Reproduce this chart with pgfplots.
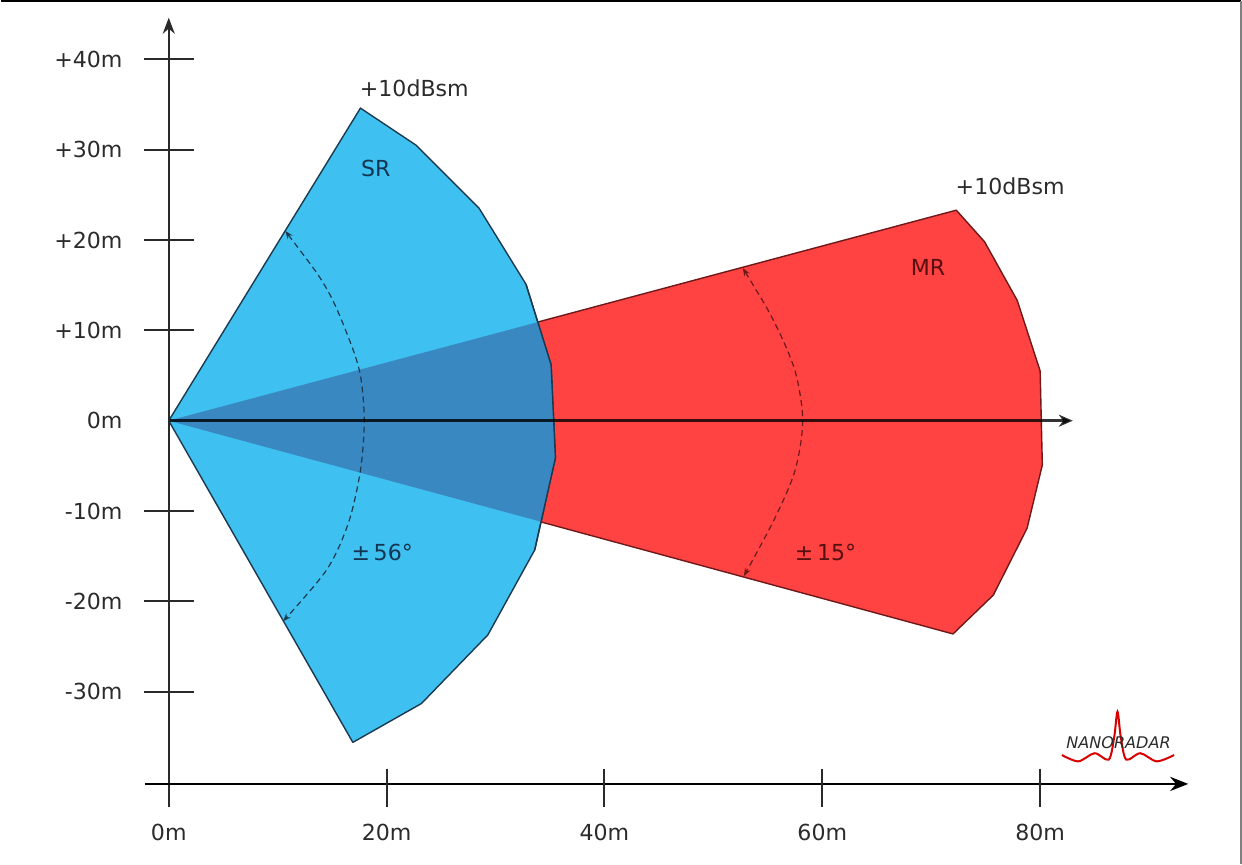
\documentclass[border=0pt]{standalone}
\usepackage{pgfplots}
\pgfplotsset{compat=1.18}
\usepackage{fontspec}
\setmainfont{DejaVu Sans}
\usetikzlibrary{arrows.meta}
\definecolor{srblue}{HTML}{3EC1F0}
\definecolor{mrred}{HTML}{FF4242}
\definecolor{overlapc}{HTML}{3A88C2}
\definecolor{sredge}{HTML}{1B3A50}
\definecolor{mredge}{HTML}{6E1A1A}
\definecolor{srtext}{HTML}{143552}
\definecolor{mrtext}{HTML}{561010}
\definecolor{axisgray}{HTML}{2A2A2A}
\definecolor{labgray}{HTML}{2B2B2B}

\begin{document}
\begin{tikzpicture}
\begin{axis}[
  scale only axis, width=621pt, height=435pt,
  xmin=-15.853, xmax=98.618, ymin=-49.667, ymax=47.0,
  axis lines=none, clip=false,
  font=\fontsize{11}{13}\selectfont,
]
% MR coverage (red)
\addplot[fill=mrred, draw=mredge, line width=0.7pt, line join=round] coordinates {
 (0,0) (72.3,23.3) (74.9,19.8) (77.9,13.3) (80.0,5.5) (80.2,-4.9)
 (78.8,-11.9) (75.7,-19.3) (72.0,-23.6) (0,0)};
% SR coverage (blue)
\addplot[fill=srblue, draw=sredge, line width=0.7pt, line join=round] coordinates {
 (0,0) (17.6,34.6) (22.7,30.5) (28.5,23.5) (32.8,15.1) (35.1,6.2)
 (35.5,-4.1) (33.6,-14.3) (29.3,-23.7) (23.2,-31.3) (16.9,-35.6) (0,0)};
% overlap
\addplot[fill=overlapc, draw=none] coordinates {
 (0,0) (33.88,10.91) (35.1,6.2) (35.5,-4.1) (34.18,-11.18) (0,0)};
% SR outline redrawn
\addplot[draw=sredge, line width=0.7pt, line join=round] coordinates {
 (32.8,15.1) (35.1,6.2) (35.5,-4.1) (33.6,-14.3)};

% angle arcs
\addplot[sredge, densely dashed, line width=0.6pt, smooth,
  {Stealth[length=4pt,width=3pt]}-{Stealth[length=4pt,width=3pt]}] coordinates {
 (10.7,21.0) (14.5,14.6) (16.6,8.9) (17.6,5.0) (17.95,0) (17.6,-5.5)
 (16.5,-11.3) (14.5,-16.5) (10.5,-22.2)};
\addplot[mredge, densely dashed, line width=0.6pt, smooth,
  {Stealth[length=4pt,width=3pt]}-{Stealth[length=4pt,width=3pt]}] coordinates {
 (52.7,16.9) (55.6,10.9) (57.5,5.5) (58.2,0) (57.5,-5.5) (55.6,-10.9) (52.8,-17.2)};

% zero line arrow
\draw[black, opacity=0.8, line width=1.3pt, -{Stealth[length=7pt,width=6pt]}]
  (axis cs:0,0) -- (axis cs:83.0,0);
% y axis
\draw[axisgray, line width=1pt, -{Stealth[length=8pt,width=6pt]}]
  (axis cs:0,-42.8) -- (axis cs:0,44.6);
% bottom x axis
\draw[black, line width=1.4pt, -{Stealth[length=9pt,width=7pt]}]
  (axis cs:-2.2,-40.2) -- (axis cs:93.6,-40.2);

% y ticks
\pgfplotsinvokeforeach{40,30,20,10,-10,-20,-30}{
  \draw[axisgray, line width=1pt] (axis cs:-2.3,#1) -- (axis cs:2.3,#1);
}
\node[anchor=east, text=labgray] at (axis cs:-3.6,40) {+40m};
\node[anchor=east, text=labgray] at (axis cs:-3.6,30) {+30m};
\node[anchor=east, text=labgray] at (axis cs:-3.6,20) {+20m};
\node[anchor=east, text=labgray] at (axis cs:-3.6,10) {+10m};
\node[anchor=east, text=labgray] at (axis cs:-3.6,0) {0m};
\node[anchor=east, text=labgray] at (axis cs:-3.6,-10) {-10m};
\node[anchor=east, text=labgray] at (axis cs:-3.6,-20) {-20m};
\node[anchor=east, text=labgray] at (axis cs:-3.6,-30) {-30m};

% x ticks
\pgfplotsinvokeforeach{20,40,60,80}{
  \draw[axisgray, line width=1pt] (axis cs:#1,-38.5) -- (axis cs:#1,-42.8);
}
\node[text=labgray] at (axis cs:0,-45.6) {0m};
\node[text=labgray] at (axis cs:20,-45.6) {20m};
\node[text=labgray] at (axis cs:40,-45.6) {40m};
\node[text=labgray] at (axis cs:60,-45.6) {60m};
\node[text=labgray] at (axis cs:80,-45.6) {80m};

% annotations
\node[anchor=west, text=labgray] at (axis cs:16.9,36.8) {+10dBsm};
\node[anchor=west, text=labgray] at (axis cs:71.6,25.9) {+10dBsm};
\node[text=srtext] at (axis cs:19.0,27.9) {SR};
\node[text=mrtext] at (axis cs:69.7,17.0) {MR};
\node[text=srtext] at (axis cs:19.6,-14.6) {±\,56°};
\node[text=mrtext] at (axis cs:60.3,-14.6) {±\,15°};

% logo
\draw[red!85!black, line width=1pt] plot[smooth] coordinates {
  (axis cs:82.0,-37.0) (axis cs:83.5,-37.7) (axis cs:85.0,-36.8) (axis cs:86.3,-37.5)
  (axis cs:86.8,-35.0) (axis cs:87.1,-32.2) (axis cs:87.4,-35.0) (axis cs:87.9,-37.5)
  (axis cs:89.2,-36.8) (axis cs:90.7,-37.7) (axis cs:92.3,-37.0)};
\node[text=labgray, font=\fontsize{8}{9}\selectfont\itshape] at (axis cs:87.2,-35.6) {NANORADAR};

% frame
\draw[black, line width=1.1pt] (axis cs:-15.39,46.44) -- (axis cs:98.43,46.44);
\draw[gray, line width=0.6pt] (axis cs:98.43,46.44) -- (axis cs:98.43,-49.1);
\end{axis}
\end{tikzpicture}
\end{document}
